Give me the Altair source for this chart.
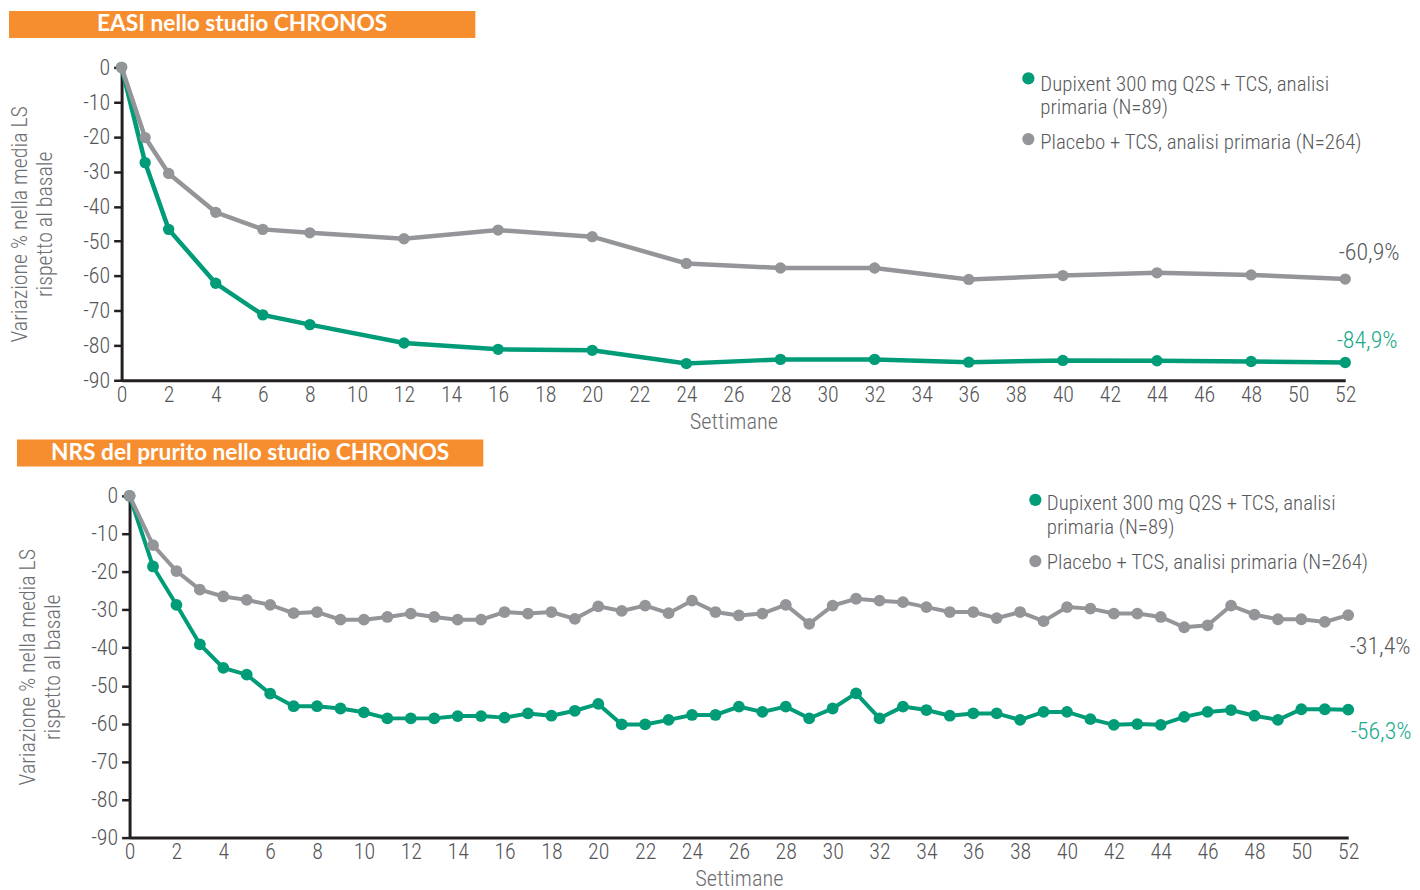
import altair as alt
import pandas as pd

# ---------------- data ----------------
easi_weeks = [0, 1, 2, 4, 6, 8, 12, 16, 20, 24, 28, 32, 36, 40, 44, 48, 52]
easi_dupixent = [0, -27.4, -46.6, -62.1, -71.2, -74.0, -79.3, -81.1, -81.4, -85.2, -84.0, -84.0,
                 -84.8, -84.3, -84.4, -84.6, -84.9]
easi_placebo = [0, -20.2, -30.5, -41.7, -46.6, -47.6, -49.3, -46.8, -48.7, -56.4, -57.7, -57.7,
                -61.0, -59.9, -59.1, -59.7, -60.9]

nrs_weeks = list(range(0, 53))
nrs_dupixent = [0, -18.6, -28.7, -39.1, -45.3, -47.1, -52.1, -55.4, -55.4, -56.0, -57.0, -58.6,
                -58.6, -58.6, -58.0, -58.0, -58.4, -57.3, -57.9, -56.6, -54.8, -60.2, -60.2, -59.0,
                -57.7, -57.7, -55.5, -56.9, -55.5, -58.6, -56.0, -52.0, -58.6, -55.5, -56.4, -57.9,
                -57.3, -57.3, -59.0, -56.9, -56.9, -58.8, -60.3, -60.1, -60.3, -58.2, -56.9, -56.4,
                -57.9, -59.0, -56.2, -56.2, -56.3]
nrs_placebo = [0, -13.0, -19.8, -24.7, -26.5, -27.4, -28.7, -30.9, -30.6, -32.6, -32.6, -31.9,
               -31.0, -31.9, -32.6, -32.6, -30.6, -31.0, -30.6, -32.4, -29.1, -30.3, -28.9, -30.9,
               -27.6, -30.6, -31.5, -31.0, -28.7, -33.7, -28.9, -27.1, -27.6, -28.0, -29.3, -30.6,
               -30.6, -32.2, -30.6, -33.0, -29.3, -29.7, -31.0, -31.0, -31.9, -34.6, -34.1, -28.9,
               -31.3, -32.5, -32.5, -33.2, -31.4]

x_ticks = list(range(0, 53, 2))
y_ticks = list(range(-90, 1, 10))

legend_dupixent = ["Dupixent 300 mg Q2S + TCS, analisi", "primaria (N=89)"]
legend_placebo = ["Placebo + TCS, analisi primaria (N=264)"]
easi_end_labels = ["-84,9%", "-60,9%"]
nrs_end_labels = ["-56,3%", "-31,4%"]
panel_titles = ["EASI nello studio CHRONOS", "NRS del prurito nello studio CHRONOS"]
y_title = ["Variazione % nella media LS", "rispetto al basale"]
x_title = "Settimane"

# ---------------- style ----------------
GREEN = "#009b77"
GRAY = "#939598"
GREEN_TXT = "#1aa98a"
GRAY_TXT = "#58595b"
AXIS_TXT = "#545557"
TITLE_TXT = "#6d6e71"
ORANGE = "#f68d2e"
DARK = "#231f20"
FONT = "Roboto Condensed"

one = pd.DataFrame({"a": [0]})


def make_panel(weeks, dup, pla, end_labels, title, W, H, point_size, stroke, label_offsets,
               legend_pos, x_title_pad, shift=0):
    df_d = pd.DataFrame({"week": weeks, "value": dup})
    df_p = pd.DataFrame({"week": weeks, "value": pla})

    xs = alt.Scale(domain=[0, 52], nice=False, zero=False, range=[shift, shift + W])
    ys = alt.Scale(domain=[-90, 0], nice=False, zero=False)
    xax = alt.Axis(values=x_ticks, ticks=False, grid=False, domainColor=DARK, domainWidth=3,
                   labelFont=FONT, labelFontWeight=300, labelFontSize=22, labelColor=AXIS_TXT,
                   labelPadding=4, title=x_title, titleFont=FONT, titleFontWeight=300,
                   titleFontSize=22.5, titleColor=TITLE_TXT, titlePadding=x_title_pad,
                   labelFlush=False, titleX=shift + W / 2)
    yax = alt.Axis(values=y_ticks, grid=False, domainColor=DARK, domainWidth=3,
                   tickColor=DARK, tickWidth=2.5, tickSize=8, offset=-shift,
                   labelExpr="datum.value == 0 ? '0' : '-' + abs(datum.value)",
                   labelFont=FONT, labelFontWeight=300, labelFontSize=22, labelColor=AXIS_TXT,
                   labelPadding=4, title=y_title, titleFont=FONT, titleFontWeight=300,
                   titleFontSize=22, titleColor=TITLE_TXT, titlePadding=26, titleLineHeight=25.5)

    X = alt.X("week:Q", scale=xs, axis=xax)
    Y = alt.Y("value:Q", scale=ys, axis=yax)

    def series(df, color):
        line = alt.Chart(df).mark_line(color=color, strokeWidth=stroke).encode(x=X, y=Y)
        pts = alt.Chart(df).mark_circle(color=color, size=point_size, opacity=1).encode(x=X, y=Y)
        return [line, pts]

    layers = series(df_d, GREEN) + series(df_p, GRAY)

    # end-of-line value labels
    (gdx, gdy), (pdx, pdy) = label_offsets
    lab_d = pd.DataFrame({"week": [weeks[-1]], "value": [dup[-1]], "t": [end_labels[0]]})
    lab_p = pd.DataFrame({"week": [weeks[-1]], "value": [pla[-1]], "t": [end_labels[1]]})
    layers.append(alt.Chart(lab_d).mark_text(font=FONT, fontWeight=300, fontSize=24,
                                              color=GREEN_TXT, dx=gdx, dy=gdy).encode(
        x=X, y=Y, text="t:N"))
    layers.append(alt.Chart(lab_p).mark_text(font=FONT, fontWeight=300, fontSize=24,
                                              color=GRAY_TXT, dx=pdx, dy=pdy).encode(
        x=X, y=Y, text="t:N"))

    # legend (custom)
    dot_x, txt_x, d1, t1, lh, d2, t2 = legend_pos
    layers.append(alt.Chart(one).mark_circle(color=GREEN, size=150, opacity=1).encode(
        x=alt.value(shift + dot_x), y=alt.value(d1)))
    layers.append(alt.Chart(one).mark_circle(color=GRAY, size=150, opacity=1).encode(
        x=alt.value(shift + dot_x), y=alt.value(d2)))
    layers.append(alt.Chart(one).mark_text(text=legend_dupixent, font=FONT, fontWeight=300,
                                           fontSize=21, lineHeight=lh, color=GRAY_TXT,
                                           align="left", baseline="alphabetic").encode(
        x=alt.value(shift + txt_x), y=alt.value(t1)))
    layers.append(alt.Chart(one).mark_text(text=legend_placebo, font=FONT, fontWeight=300,
                                           fontSize=21, color=GRAY_TXT,
                                           align="left", baseline="alphabetic").encode(
        x=alt.value(shift + txt_x), y=alt.value(t2)))

    # orange title bar
    layers.append(alt.Chart(one).mark_rect(color=ORANGE).encode(
        x=alt.value(shift - 113), x2=alt.value(shift + 355),
        y=alt.value(-56.5), y2=alt.value(-29.5)))
    layers.append(alt.Chart(one).mark_text(text=title, font="Lato", fontWeight="bold",
                                           fontSize=22.8, color="white", align="center",
                                           baseline="alphabetic").encode(
        x=alt.value(shift + 121), y=alt.value(-36)))

    return alt.layer(*layers).properties(width=W + shift, height=H)


top = make_panel(easi_weeks, easi_dupixent, easi_placebo, easi_end_labels, panel_titles[0],
                 1228, 314, 130, 4.5, ((22, -21.5), (24, -26)),
                 (910, 922, 11, 23.3, 23.5, 72, 81.6), 5)
bottom = make_panel(nrs_weeks, nrs_dupixent, nrs_placebo, nrs_end_labels, panel_titles[1],
                    1223, 343, 140, 4, ((33, 22), (32, 32)),
                    (909, 920.5, 4, 13.8, 24.4, 65.5, 73.8), 5, shift=8)

chart = alt.ConcatChart(concat=[top, bottom], columns=1, spacing=6).properties(
    padding={"left": 0, "top": 1, "right": 0, "bottom": 0}
).configure_view(stroke=None)

chart.save("out.html", embed_options={"renderer": "svg", "actions": False})
